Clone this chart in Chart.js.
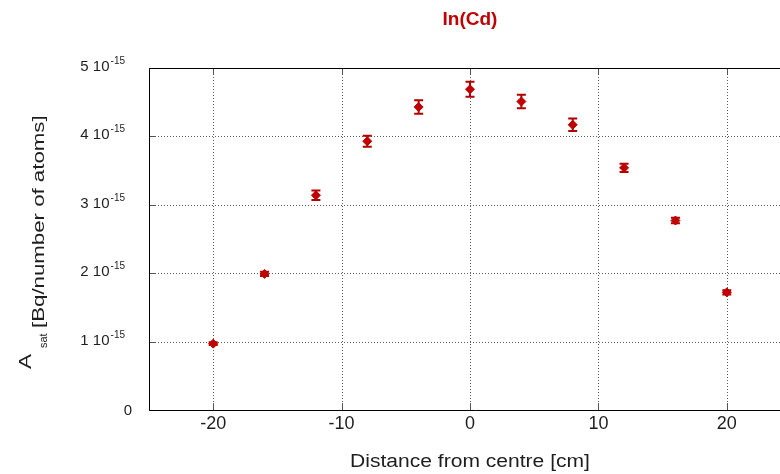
<!DOCTYPE html>
<html>
<head>
<meta charset="utf-8">
<script src="https://cdn.jsdelivr.net/npm/chart.js@4/dist/chart.umd.min.js"></script>
<style>
  html, body { margin: 0; padding: 0; background: #fff; overflow: hidden; width: 780px; height: 474px; }
  #wrap { position: relative; width: 800px; height: 474px; }
</style>
</head>
<body>
<div id="wrap"><canvas id="c" width="800" height="474"></canvas></div>
<script>
// Texts
const chartTitle = 'In(Cd)';
const xAxisTitle = 'Distance from centre [cm]';
const yTitleMain = 'A';
const yTitleSub = 'sat';
const yTitleUnit = '[Bq/number of atoms]';

// Foil positions along the irradiation column [cm]
const distance = [-20, -16, -12, -8, -4, 0, 4, 8, 12, 16, 20];
// Saturation activity per atom, in units of 10^-15 Bq
const activity = [0.97, 1.99, 3.14, 3.93, 4.43, 4.69, 4.51, 4.17, 3.54, 2.77, 1.72];
// One-sigma uncertainty, same units
const activityErr = [0.02, 0.03, 0.07, 0.08, 0.10, 0.11, 0.10, 0.09, 0.06, 0.04, 0.03];

// Axes
const xTicks = [-20, -10, 0, 10, 20];
const xTickLabels = ['-20', '-10', '0', '10', '20'];
const yTicks = [0, 1, 2, 3, 4, 5];
const yTickLabels = ['0', '1 10', '2 10', '3 10', '4 10', '5 10'];
const yTickExponent = '-15';

const FONT = '"Liberation Sans", Arial, Helvetica, sans-serif';
const RED = '#c00000';
const TEXT = '#1e1e1e';

// Dotted grid, inner tick marks and the plot frame
const framePlugin = {
  id: 'frame',
  beforeDatasetsDraw(chart) {
    const { ctx, chartArea: a, scales: { x, y } } = chart;
    ctx.save();
    ctx.lineWidth = 1;
    ctx.strokeStyle = '#5e5e5e';
    ctx.setLineDash([1, 2]);
    xTicks.forEach(v => {
      const px = Math.round(x.getPixelForValue(v)) + 0.5;
      ctx.beginPath(); ctx.moveTo(px, a.top); ctx.lineTo(px, a.bottom); ctx.stroke();
    });
    yTicks.forEach(v => {
      if (v <= y.min || v >= y.max) return;
      const py = Math.round(y.getPixelForValue(v)) + 0.5;
      ctx.beginPath(); ctx.moveTo(a.left, py); ctx.lineTo(a.right, py); ctx.stroke();
    });
    ctx.setLineDash([]);
    ctx.strokeStyle = '#555';
    const tl = 7;
    xTicks.forEach(v => {
      const px = Math.round(x.getPixelForValue(v)) + 0.5;
      ctx.beginPath(); ctx.moveTo(px, a.bottom); ctx.lineTo(px, a.bottom - tl); ctx.stroke();
      ctx.beginPath(); ctx.moveTo(px, a.top); ctx.lineTo(px, a.top + tl); ctx.stroke();
    });
    yTicks.forEach(v => {
      const py = Math.round(y.getPixelForValue(v)) + 0.5;
      ctx.beginPath(); ctx.moveTo(a.left, py); ctx.lineTo(a.left + tl, py); ctx.stroke();
    });
    ctx.strokeStyle = '#000';
    const l = Math.round(a.left) + 0.5, b = Math.round(a.bottom) + 0.5, t = Math.round(a.top) + 0.5;
    ctx.beginPath();
    ctx.moveTo(a.right + 20, t); ctx.lineTo(l, t); ctx.lineTo(l, b); ctx.lineTo(a.right + 20, b);
    ctx.stroke();
    ctx.restore();
  }
};

// Vertical error bars with caps
const errorBarPlugin = {
  id: 'errorBars',
  beforeDatasetsDraw(chart) {
    const { ctx, scales: { x, y } } = chart;
    ctx.save();
    ctx.strokeStyle = '#b00000';
    distance.forEach((d, i) => {
      const px = x.getPixelForValue(d);
      const top = y.getPixelForValue(activity[i] + activityErr[i]);
      const bot = y.getPixelForValue(activity[i] - activityErr[i]);
      ctx.lineWidth = 2;
      ctx.beginPath(); ctx.moveTo(px, top); ctx.lineTo(px, bot); ctx.stroke();
      ctx.beginPath();
      ctx.moveTo(px - 4.5, top); ctx.lineTo(px + 4.5, top);
      ctx.moveTo(px - 4.5, bot); ctx.lineTo(px + 4.5, bot);
      ctx.stroke();
    });
    ctx.restore();
  }
};

// Tick labels, axis titles and chart title
const textPlugin = {
  id: 'texts',
  afterDraw(chart) {
    const { ctx, chartArea: a, scales: { x, y } } = chart;
    ctx.save();
    ctx.fillStyle = TEXT;

    // x tick labels
    ctx.font = '18px ' + FONT;
    ctx.textAlign = 'center';
    ctx.textBaseline = 'middle';
    xTicks.forEach((v, i) => ctx.fillText(xTickLabels[i], x.getPixelForValue(v), 424));

    // y tick labels with exponent
    ctx.textBaseline = 'alphabetic';
    yTicks.forEach((v, i) => {
      const py = y.getPixelForValue(v);
      if (i === 0) {
        ctx.font = '15px ' + FONT;
        ctx.textAlign = 'right';
        ctx.fillText(yTickLabels[i], 132, py + 5);
        return;
      }
      ctx.font = '10px ' + FONT;
      const ew = ctx.measureText(yTickExponent).width;
      ctx.textAlign = 'right';
      ctx.fillText(yTickExponent, 125, py - 4);
      ctx.font = '15px ' + FONT;
      ctx.fillText(yTickLabels[i], 125 - ew - 1, py + 3);
    });

    // x axis title
    ctx.save();
    ctx.font = '18px ' + FONT;
    ctx.textAlign = 'center';
    ctx.translate((a.left + a.right) / 2, 467);
    ctx.scale(1.17, 1);
    ctx.fillText(xAxisTitle, 0, 0);
    ctx.restore();

    // y axis title, rotated, with subscript
    ctx.save();
    ctx.textAlign = 'left';
    ctx.translate(31, 369);
    ctx.rotate(-Math.PI / 2);
    ctx.save();
    ctx.font = '16px ' + FONT;
    ctx.scale(1.4, 1);
    ctx.fillText(yTitleMain, 0, 0);
    ctx.restore();
    ctx.font = '11px ' + FONT;
    ctx.fillText(yTitleSub, 21, 15.5);
    ctx.save();
    ctx.translate(41, 13.3);
    ctx.font = '16px ' + FONT;
    ctx.scale(1.39, 1);
    ctx.fillText(yTitleUnit, 0, 0);
    ctx.restore();
    ctx.restore();

    // chart title
    ctx.font = 'bold 19px ' + FONT;
    ctx.fillStyle = RED;
    ctx.textAlign = 'center';
    ctx.textBaseline = 'middle';
    ctx.fillText(chartTitle, (a.left + a.right) / 2, 20);
    ctx.restore();
  }
};

new Chart(document.getElementById('c'), {
  type: 'scatter',
  data: {
    datasets: [{
      data: distance.map((d, i) => ({ x: d, y: activity[i] })),
      pointStyle: 'rectRot',
      pointRadius: 4.5,
      backgroundColor: RED,
      borderColor: RED,
      borderWidth: 1,
      showLine: false
    }]
  },
  options: {
    responsive: false,
    animation: false,
    events: [],
    layout: { padding: { top: 68, right: 9, left: 0, bottom: 0 } },
    plugins: { legend: { display: false }, tooltip: { enabled: false }, title: { display: false } },
    scales: {
      x: {
        type: 'linear', min: -25, max: 25,
        afterBuildTicks: s => { s.ticks = xTicks.map(v => ({ value: v })); },
        afterFit: s => { s.height = 64; },
        grid: { display: false },
        border: { display: false },
        ticks: { display: false }
      },
      y: {
        type: 'linear', min: 0, max: 5,
        afterBuildTicks: s => { s.ticks = yTicks.map(v => ({ value: v })); },
        afterFit: s => { s.width = 149; },
        grid: { display: false },
        border: { display: false },
        ticks: { display: false }
      }
    }
  },
  plugins: [framePlugin, errorBarPlugin, textPlugin]
});
</script>
</body>
</html>
